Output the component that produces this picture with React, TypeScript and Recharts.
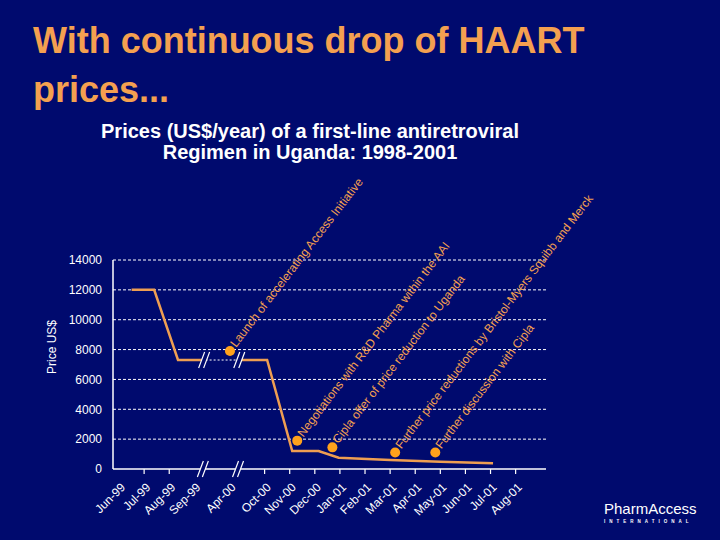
import React from "react";
import {
  LineChart,
  Line,
  XAxis,
  YAxis,
  CartesianGrid,
  ReferenceDot,
} from "recharts";

const BG = "#000a6e";
const ORANGE = "#f4a050";
const LINE_ORANGE = "#ee9e52";
const DOT_ORANGE = "#ffa21c";
const FONT = "'Liberation Sans', Arial, sans-serif";

// x axis: months, with a break between Sep-99 and Apr-00 and Apr-00 and Oct-00
const X_LABELS = [
  "Jun-99", "Jul-99", "Aug-99", "Sep-99", "Apr-00", "Oct-00", "Nov-00", "Dec-00",
  "Jan-01", "Feb-01", "Mar-01", "Apr-01", "May-01", "Jun-01", "Jul-01", "Aug-01",
];
const X_SLOTS = [0, 1, 2, 3, 4.4, 5.8, 6.8, 7.8, 8.8, 9.8, 10.8, 11.8, 12.8, 13.8, 14.8, 15.8];
const NO_TICK = ["Jun-99", "Sep-99", "Apr-00"];

const Y_TICKS = [0, 2000, 4000, 6000, 8000, 10000, 12000, 14000];

// price line, split where the axis is broken
const BEFORE_SLOTS = [0.5, 1.4, 2.35, 3.45];
const BEFORE_PRICES = [12000, 12000, 7300, 7300];
const GAP_SLOTS = [3.45, 4.85];
const GAP_PRICES = [7300, 7300];
const AFTER_SLOTS = [4.85, 5.9, 6.9, 7.95, 8.75, 10.8, 12.8, 14.9];
const AFTER_PRICES = [7300, 7300, 1200, 1200, 750, 600, 480, 380];
const BREAK_SLOTS = [3.45, 4.85];

const EVENTS = [
  "Launch of accelerating Access Initiative",
  "Negotiations with R&D Pharma within the AAI",
  "Cipla offer of price reduction to Uganda",
  "Further price reductions by Bristol-Myers Squibb and Merck",
  "Further discussion with Cipla",
];
const EVENT_SLOTS = [4.42, 7.1, 8.5, 11.0, 12.6];
const EVENT_PRICES = [7900, 1900, 1450, 1100, 1100];

const toRows = (slots: number[], prices: number[]) =>
  slots.map((slot, i) => ({ slot, price: prices[i] }));

function XTick({ x, y, payload }: any) {
  const i = X_SLOTS.indexOf(payload.value);
  const label = X_LABELS[i];
  const tx = x + 7;
  const ty = y + 11;
  return (
    <g>
      {!NO_TICK.includes(label) && (
        <line x1={x} y1={y - 8} x2={x} y2={y - 3} stroke="#fff" strokeWidth={1.2} />
      )}
      <text
        x={tx}
        y={ty}
        transform={`rotate(-45 ${tx} ${ty})`}
        textAnchor="end"
        fill="#fff"
        fontSize={12}
        fontFamily={FONT}
      >
        {label}
      </text>
    </g>
  );
}

function BreakMark({ cx, cy }: any) {
  return (
    <g>
      <polygon
        points={`${cx - 7},${cy + 8} ${cx - 1},${cy - 8} ${cx + 4},${cy - 8} ${cx - 2},${cy + 8}`}
        fill={BG}
      />
      <line x1={cx - 7} y1={cy + 8} x2={cx - 1} y2={cy - 8} stroke="#fff" strokeWidth={1.2} />
      <line x1={cx - 2} y1={cy + 8} x2={cx + 4} y2={cy - 8} stroke="#fff" strokeWidth={1.2} />
    </g>
  );
}

function EventMark({ cx, cy, text }: any) {
  const tx = cx + 6;
  const ty = cy - 3;
  return (
    <g>
      <circle cx={cx} cy={cy} r={5} fill={DOT_ORANGE} />
      <text
        x={tx}
        y={ty}
        transform={`rotate(-52.5 ${tx} ${ty})`}
        fill={ORANGE}
        fontSize={12}
        fontFamily={FONT}
      >
        {text}
      </text>
    </g>
  );
}

export default function App() {
  return (
    <div
      style={{
        position: "absolute",
        left: 0,
        top: 0,
        width: 720,
        height: 540,
        background: BG,
        fontFamily: FONT,
        overflow: "hidden",
      }}
    >
      <div
        style={{
          position: "absolute",
          left: 33,
          top: 16,
          color: ORANGE,
          fontSize: 36,
          fontWeight: "bold",
          lineHeight: "49px",
        }}
      >
        With continuous drop of HAART
        <br />
        prices...
      </div>
      <div
        style={{
          position: "absolute",
          left: 60,
          width: 500,
          top: 121,
          color: "#fff",
          fontSize: 20,
          fontWeight: "bold",
          lineHeight: "21px",
          textAlign: "center",
        }}
      >
        Prices (US$/year) of a first-line antiretroviral
        <br />
        Regimen in Uganda: 1998-2001
      </div>
      <div
        style={{
          position: "absolute",
          left: 20,
          top: 340,
          width: 64,
          textAlign: "center",
          color: "#fff",
          fontSize: 12,
          transform: "rotate(-90deg)",
        }}
      >
        Price US$
      </div>

      <div style={{ position: "absolute", left: 0, top: 0 }}>
        <LineChart
          width={720}
          height={540}
          margin={{ top: 260, right: 174, bottom: 11, left: 53 }}
        >
          <CartesianGrid
            horizontal
            vertical={false}
            stroke="#ffffff"
            strokeDasharray="3 2"
            strokeWidth={1}
            horizontalValues={Y_TICKS.filter((v) => v > 0)}
          />
          <XAxis
            type="number"
            dataKey="slot"
            domain={[-0.24, 17.01]}
            ticks={X_SLOTS}
            allowDataOverflow
            interval={0}
            height={60}
            tickSize={6}
            tickLine={false}
            axisLine={{ stroke: "#fff", strokeWidth: 1.5 }}
            tick={<XTick />}
          />
          <YAxis
            type="number"
            domain={[0, 14000]}
            ticks={Y_TICKS}
            width={60}
            tickSize={6}
            tickMargin={5}
            tickLine={false}
            axisLine={{ stroke: "#fff", strokeWidth: 1.5 }}
            tick={{ fill: "#fff", fontSize: 12, fontFamily: FONT }}
          />
          <Line
            data={toRows(BEFORE_SLOTS, BEFORE_PRICES)}
            dataKey="price"
            stroke={LINE_ORANGE}
            strokeWidth={2.5}
            dot={false}
            isAnimationActive={false}
          />
          <Line
            data={toRows(GAP_SLOTS, GAP_PRICES)}
            dataKey="price"
            stroke="#ffffff"
            strokeWidth={1}
            strokeDasharray="2 2"
            dot={false}
            isAnimationActive={false}
          />
          <Line
            data={toRows(AFTER_SLOTS, AFTER_PRICES)}
            dataKey="price"
            stroke={LINE_ORANGE}
            strokeWidth={2.5}
            dot={false}
            isAnimationActive={false}
          />
          {BREAK_SLOTS.map((s) => (
            <ReferenceDot key={`l${s}`} x={s} y={7300} r={0} ifOverflow="visible" shape={<BreakMark />} />
          ))}
          {BREAK_SLOTS.map((s) => (
            <ReferenceDot key={`a${s}`} x={s - 0.05} y={0} r={0} ifOverflow="visible" shape={<BreakMark />} />
          ))}
          {EVENTS.map((text, i) => (
            <ReferenceDot
              key={text}
              x={EVENT_SLOTS[i]}
              y={EVENT_PRICES[i]}
              r={5}
              ifOverflow="visible"
              shape={(p: any) => <EventMark {...p} text={text} />}
            />
          ))}
        </LineChart>
      </div>

      <div style={{ position: "absolute", left: 604, top: 500, color: "#fff" }}>
        <div style={{ fontSize: 15, lineHeight: "17px" }}>PharmAccess</div>
        <div style={{ fontSize: 4.5, fontWeight: "bold", letterSpacing: 4, lineHeight: "6px", marginTop: 2 }}>
          INTERNATIONAL
        </div>
      </div>
    </div>
  );
}
